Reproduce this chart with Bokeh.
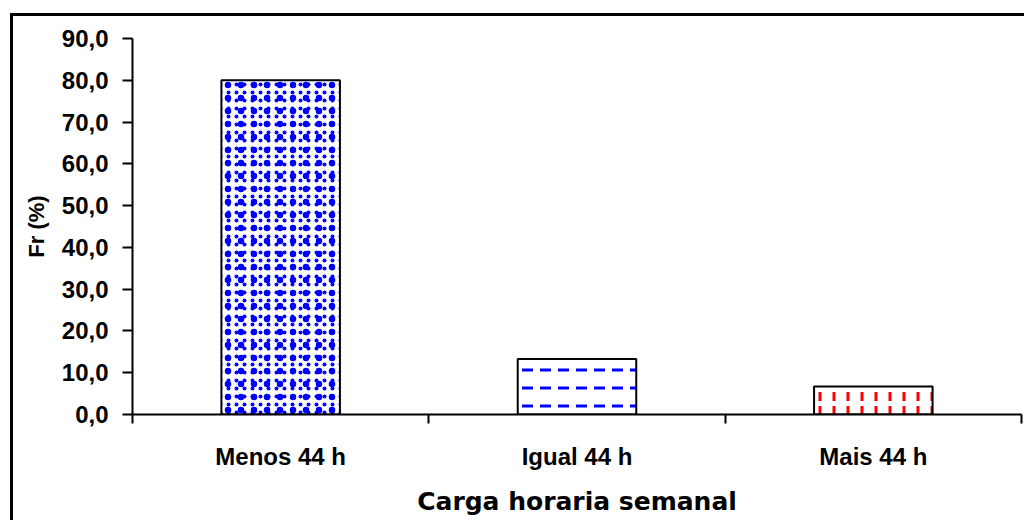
import numpy as np
from bokeh.plotting import figure
from bokeh.models import (ColumnDataSource, CDSView, IndexFilter, FixedTicker, Range1d)
from bokeh.core.properties import value
from bokeh.embed import file_html
from bokeh.resources import INLINE

# ---- data ----
categories = ["Menos 44 h", "Igual 44 h", "Mais 44 h"]
values = [80.0, 13.3, 6.7]
y_ticks = [0, 10, 20, 30, 40, 50, 60, 70, 80, 90]
y_tick_labels = ["0,0", "10,0", "20,0", "30,0", "40,0", "50,0", "60,0", "70,0", "80,0", "90,0"]
x_title = "Carga horaria semanal"
y_title = "Fr (%)"

# ---- styles ----
hatch_colors = ["#0000FF", "#0000FF", "#FF0000"]
pattern_names = ["dot", "horizontal_dash", "vertical_dash"]
hatch_scales = [8, 18, 14]
hatch_weights = [3, 3, 3]
# second texture layer (only the first bar gets an extra confetti-like layer)
extra_patterns = ["dot", None, None]
extra_scales = [13, None, None]

n = len(categories)
xpos = np.arange(n) + 0.5
source = ColumnDataSource(data=dict(x=xpos, top=values, cat=categories))

p = figure(width=1024, height=520, output_backend="svg", toolbar_location=None,
           x_range=Range1d(0, n), y_range=Range1d(0, 90),
           min_border_left=132, min_border_top=38, min_border_right=3, min_border_bottom=106)
p.border_fill_alpha = 0
p.background_fill_alpha = 0
p.outline_line_color = None
p.xgrid.visible = False
p.ygrid.visible = False
p.styles = {
    "background": "linear-gradient(#000,#000) 10px 13px / 3px 100% no-repeat, "
                  "linear-gradient(#000,#000) 10px 13px / 100% 3px no-repeat",
}

for i in range(n):
    view = CDSView(filter=IndexFilter([i]))
    if extra_patterns[i] is None:
        p.vbar(x="x", top="top", width=0.4, bottom=0, source=source, view=view,
               fill_color="white", line_color="black", line_width=2,
               hatch_pattern=value(pattern_names[i]),
               hatch_color=hatch_colors[i], hatch_scale=hatch_scales[i],
               hatch_weight=hatch_weights[i])
    else:
        p.vbar(x="x", top="top", width=0.4, bottom=0, source=source, view=view,
               fill_color="white", line_color=None,
               hatch_pattern=value(pattern_names[i]),
               hatch_color=hatch_colors[i], hatch_scale=hatch_scales[i],
               hatch_weight=hatch_weights[i])
        p.vbar(x="x", top="top", width=0.4, bottom=0, source=source, view=view,
               fill_alpha=0, line_color=None,
               hatch_pattern=value(extra_patterns[i]),
               hatch_color=hatch_colors[i], hatch_scale=extra_scales[i],
               hatch_weight=hatch_weights[i])
        p.vbar(x="x", top="top", width=0.4, bottom=0, source=source, view=view,
               fill_alpha=0, line_color="black", line_width=2)

# y axis
ya = p.yaxis[0]
ya.ticker = FixedTicker(ticks=y_ticks, minor_ticks=[])
ya.major_label_overrides = {t: l for t, l in zip(y_ticks, y_tick_labels)}
ya.major_label_text_font = "Liberation Sans"
ya.major_label_text_font_style = "bold"
ya.major_label_text_font_size = "24px"
ya.major_label_text_color = "black"
ya.major_label_standoff = 14
ya.major_tick_out = 10
ya.major_tick_in = 0
ya.major_tick_line_width = 2
ya.axis_line_width = 2
ya.axis_line_color = "black"
ya.major_tick_line_color = "black"
ya.axis_label = y_title
ya.axis_label_text_font = "Liberation Sans"
ya.axis_label_text_font_style = "bold"
ya.axis_label_text_font_size = "22px"
ya.axis_label_text_color = "black"
ya.axis_label_standoff = 10

# x axis
xa = p.xaxis[0]
xa.ticker = FixedTicker(ticks=list(xpos), minor_ticks=list(range(n + 1)))
xa.major_label_overrides = {float(x): c for x, c in zip(xpos, categories)}
xa.major_tick_out = 0
xa.major_tick_in = 0
xa.minor_tick_out = 9
xa.minor_tick_in = 0
xa.minor_tick_line_width = 2
xa.minor_tick_line_color = "black"
xa.axis_line_width = 2
xa.axis_line_color = "black"
xa.major_label_text_font = "Liberation Sans"
xa.major_label_text_font_style = "bold"
xa.major_label_text_font_size = "24px"
xa.major_label_text_color = "black"
xa.major_label_standoff = 19
xa.axis_label = x_title
xa.axis_label_text_font = "DejaVu Sans"
xa.axis_label_text_font_style = "bold"
xa.axis_label_text_font_size = "25px"
xa.axis_label_text_color = "black"
xa.axis_label_standoff = 14

open("out.html", "w").write(file_html(p, INLINE))
